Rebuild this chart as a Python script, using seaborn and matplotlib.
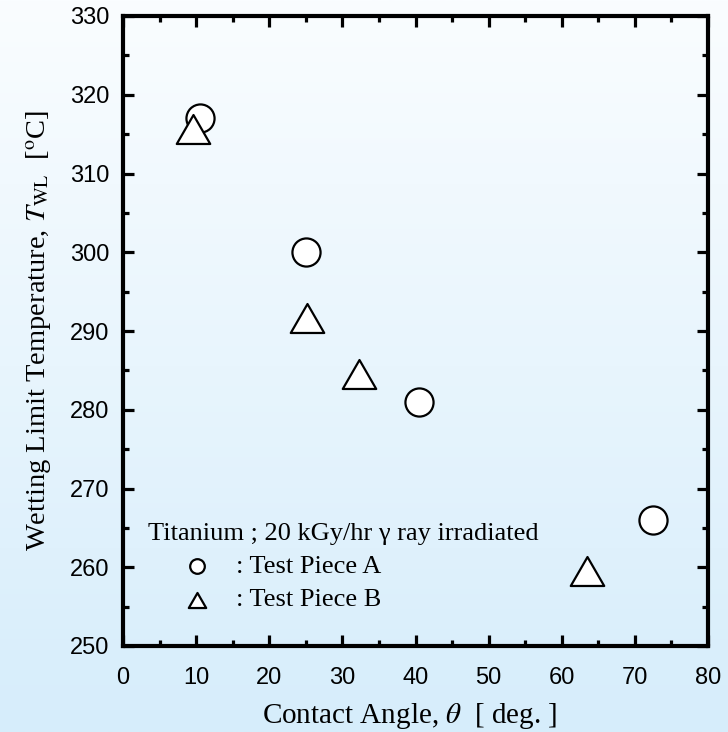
import numpy as np
import pandas as pd
import matplotlib
matplotlib.use("Agg")
import matplotlib.pyplot as plt
from matplotlib.path import Path
from matplotlib.markers import MarkerStyle
from matplotlib.ticker import MultipleLocator
import seaborn as sns

# ---- data ----
theta_a = [10.5, 25.0, 40.5, 72.5]
temp_a = [317.1, 300.0, 281.0, 266.0]
theta_b = [9.55, 25.15, 32.3, 63.45]
temp_b = [315.7, 291.6, 284.6, 259.5]
label_a = ": Test Piece A"
label_b = ": Test Piece B"
legend_title = "Titanium ; 20 kGy/hr \u03b3 ray irradiated"
x_ticks = [0, 10, 20, 30, 40, 50, 60, 70, 80]
y_ticks = [250, 260, 270, 280, 290, 300, 310, 320, 330]

df_a = pd.DataFrame({"theta": theta_a, "temp": temp_a})
df_b = pd.DataFrame({"theta": theta_b, "temp": temp_b})

sns.set_theme(style="ticks")
plt.rcParams["font.family"] = ["Liberation Serif", "DejaVu Serif"]
plt.rcParams["mathtext.fontset"] = "stix"

fig = plt.figure(figsize=(7.28, 7.32), dpi=100)

# gradient background
bg = fig.add_axes([0, 0, 1, 1])
top_c = np.array([250, 253, 255]) / 255.0
bot_c = np.array([214, 237, 251]) / 255.0
t = np.linspace(0, 1, 256)[:, None]
grad = (top_c[None, :] * (1 - t) + bot_c[None, :] * t)[:, None, :]
bg.imshow(grad, aspect="auto", extent=[0, 1, 0, 1], interpolation="bilinear")
bg.set_axis_off()
bg.set_zorder(-10)

ax = fig.add_axes([123 / 728, 86 / 732, 585 / 728, 630 / 732])
ax.set_facecolor("none")

tri = MarkerStyle(Path([(-1, -0.866), (1, -0.866), (0, 0.866), (-1, -0.866)],
                       [Path.MOVETO, Path.LINETO, Path.LINETO, Path.CLOSEPOLY]))

sns.scatterplot(data=df_a, x="theta", y="temp", marker="o", s=410,
                facecolor="white", edgecolor="black", linewidth=1.6,
                label=label_a, ax=ax, zorder=3)
sns.scatterplot(data=df_b, x="theta", y="temp", marker=tri, s=580,
                facecolor="white", edgecolor="black", linewidth=1.6,
                label=label_b, ax=ax, zorder=4)

ax.set_xlim(0, 80)
ax.set_ylim(250, 330)
ax.set_xticks(x_ticks)
ax.set_yticks(y_ticks)
ax.xaxis.set_minor_locator(MultipleLocator(5))
ax.yaxis.set_minor_locator(MultipleLocator(5))

for sp in ax.spines.values():
    sp.set_visible(True)
    sp.set_linewidth(3)
    sp.set_color("black")

ax.tick_params(which="both", direction="in", top=True, right=True,
               color="black", width=2.3, labelcolor="black")
ax.tick_params(which="major", length=8, labelsize=17,
               labelfontfamily="Liberation Sans")
ax.tick_params(which="minor", length=4)
ax.tick_params(axis="y", which="major", pad=10)
ax.tick_params(axis="x", which="major", pad=15)

ax.set_xlabel(r"Contact Angle, $\theta$  [ deg. ]", fontsize=21,
              labelpad=8, color="black")
ax.xaxis.set_label_coords(0.49, -0.088)
ax.set_ylabel(r"Wetting Limit Temperature, $T_{\rm WL}$  [$^{\rm o}$C]",
              fontsize=20.5, labelpad=12, color="black")

leg = ax.legend(title=legend_title, loc="upper left",
                bbox_to_anchor=((148 - 123) / 585, (646 - 523) / 630),
                frameon=False, fontsize=19, title_fontsize=19,
                alignment="left", borderpad=0, borderaxespad=0,
                handlelength=3.7, handletextpad=-0.35, labelspacing=0.37,
                markerscale=0.52)
for txt in leg.get_texts():
    txt.set_color("black")
leg.get_title().set_color("black")

fig.savefig("out.png", dpi=100)
